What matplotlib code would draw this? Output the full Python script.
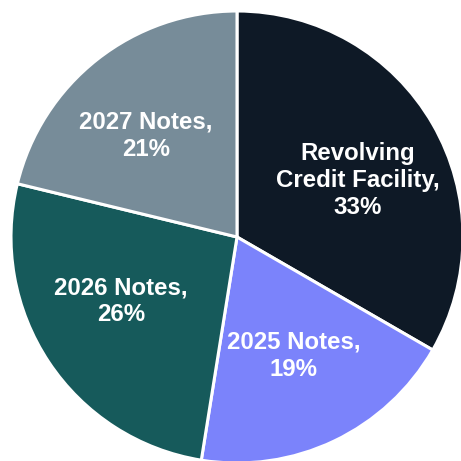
import matplotlib
matplotlib.use("Agg")
import matplotlib.pyplot as plt

labels = ["Revolving\nCredit Facility", "2025 Notes", "2026 Notes", "2027 Notes"]
shares = [33, 19, 26, 21]
colors = ["#0e1926", "#7b83fb", "#165a5b", "#778c99"]
# label centres in pie units (radius = 1)
label_xy = [(0.535, 0.248), (0.25, -0.525), (-0.513, -0.285), (-0.403, 0.447)]

plt.rcParams["font.family"] = ["Liberation Sans", "DejaVu Sans"]
fig = plt.figure(figsize=(4.61, 4.61), dpi=100)
ax = fig.add_axes([0, 0, 1, 1])
ax.pie(shares, colors=colors, startangle=90, counterclock=False, radius=1.0,
       wedgeprops=dict(edgecolor="white", linewidth=2.2))
for lab, v, (x, y) in zip(labels, shares, label_xy):
    ax.text(x, y, f"{lab},\n{v}%", ha="center", va="center", color="white",
            fontsize=17.3, fontweight="bold", linespacing=1.22)
ax.set_xlim(-237 / 226, 224 / 226)
ax.set_ylim(-224 / 226, 237 / 226)
ax.set_aspect("equal")
ax.axis("off")
fig.savefig("out.png", dpi=100)
